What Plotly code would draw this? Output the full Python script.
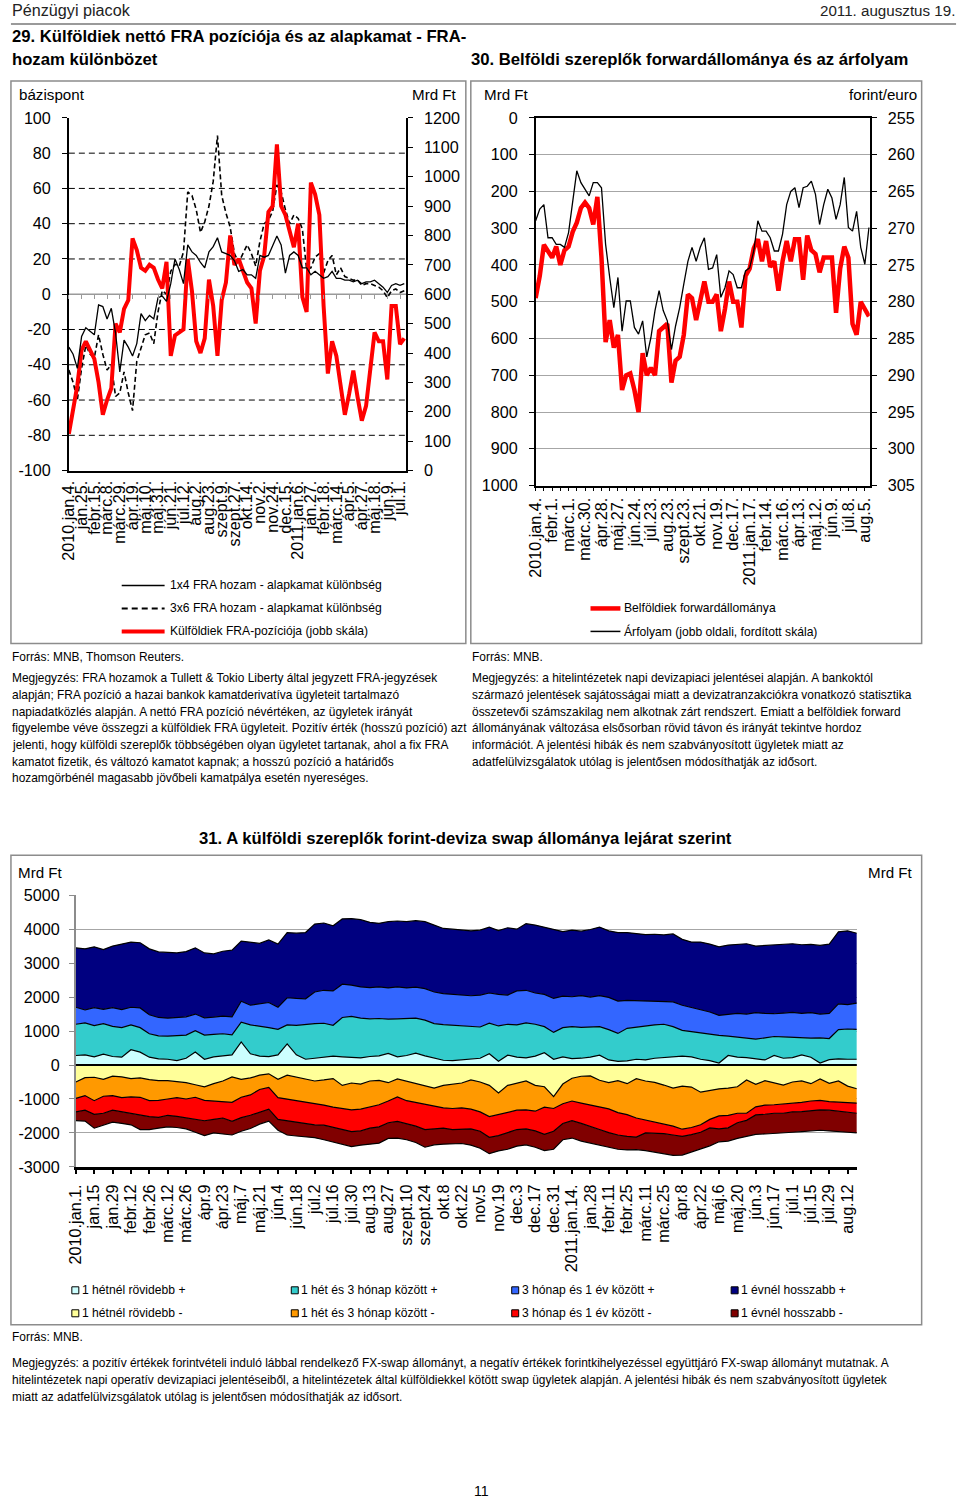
import plotly.graph_objects as go

W, H = 960, 1510
FONT = "Liberation Sans"

# The photographed page shows the canvas with a small inset and shrink; positions below are
# given in picture pixels and mapped back onto the canvas.
SC, OFF = 0.989, 8.0


def X(p):
    return (p - OFF) / SC / W


def Y(p):
    return 1 - (p - OFF) / SC / H


def fs(s):
    return round(s / SC, 2)


# ---------------- Chart 29 data (every 5 business days from 2010.jan.4.) ----------------
labels29 = ["2010.jan.4.", "jan.25.", "febr.15.", "márc.8.", "márc.29.", "ápr.19.", "máj.10.",
            "máj.31.", "jún.21.", "júl.12.", "aug.2.", "aug.23.", "szept.9.", "szept.27.",
            "okt.14.", "nov.2.", "nov.24.", "dec.15.", "2011.jan.6.", "jan.27.", "febr.18.",
            "márc.14.", "ápr.5.", "ápr.27.", "máj.18.", "jún.9.", "júl.1."]

fra_1x4 = [-30, -34, -42, -24, -19, -21, -23, -6, -7, -14,
           -8, -22, -44, -26, -30, -35, -28, -11, -15, -12,
           -14, -2, -1, -4, 6, 20, 14, 6, 28, 24,
           22, 18, 15, 24, 27, 32, 24, 23, 22, 19,
           13, 14, 11, 11, 9, 22, 21, 22, 28, 33,
           28, 12, 22, 24, 22, 15, 15, 11, 13, 11,
           9, 10, 13, 9, 9, 8, 8, 7, 8, 6,
           7, 7, 8, 6, 4, 1, 5, 6, 5, 6]

fra_3x6 = [-43, -50, -60, -42, -29, -34, -36, -23, -34, -43,
           -40, -58, -56, -44, -56, -66, -38, -30, -23, -22,
           -28, -10, 2, 0, 13, 17, 16, 24, 58, 56,
           48, 35, 41, 50, 64, 90, 56, 46, 38, 23,
           18, 23, 28, 23, 16, 30, 40, 42, 47, 62,
           58, 48, 40, 45, 43, 37, 14, 15, 21, 23,
           12, 19, 22, 11, 15, 10, 9, 8, 8, 5,
           6, 6, 5, 4, 2, -2, 2, 3, 1, 2]

fra_pos = [125, 200, 290, 410, 440, 410, 380, 300, 190, 240,
           280, 500, 470, 550, 580, 790, 750, 690, 680, 700,
           690, 650, 620, 710, 390, 460, 470, 480, 720, 610,
           440, 400, 450, 650, 560, 390, 580, 640, 800, 700,
           720, 680, 640, 620, 500, 680, 730, 880, 900, 1110,
           900, 870, 820, 760, 840, 590, 540, 980, 940, 870,
           560, 330, 440, 390, 290, 190, 260, 340, 250, 170,
           220, 350, 470, 440, 440, 310, 560, 560, 430, 450]

# ---------------- Chart 30 data (every 5 business days from 2010.jan.4.) ----------------
labels30 = ["2010.jan.4.", "febr.1.", "márc.1.", "márc.30.", "ápr.28.", "máj.27.", "jún.24.",
            "júl.23.", "aug.23.", "szept.23.", "okt.21.", "nov.19.", "dec.17.", "2011.jan.17.",
            "febr.14.", "márc.16.", "ápr.13.", "máj.12.", "jún.9.", "júl.8.", "aug.5."]

fwd_stock = [490, 430, 345, 365, 380, 350, 400, 360, 350, 310,
             285, 245, 230, 245, 290, 215, 380, 610, 550, 625,
             590, 740, 700, 695, 740, 800, 640, 700, 680, 700,
             580, 570, 560, 720, 660, 650, 590, 480, 490, 550,
             490, 445, 500, 500, 480, 580, 520, 445, 500, 500,
             570, 430, 410, 355, 330, 390, 335, 405, 390, 470,
             390, 335, 390, 330, 330, 440, 320, 360, 370, 420,
             380, 380, 380, 530, 410, 350, 380, 560, 590, 500,
             520, 540]

eurhuf = [269.0, 267.4, 266.8, 271.3, 271.3, 272.2, 272.2, 272.6, 270.6, 266.5,
          262.2, 263.8, 264.7, 265.6, 263.8, 263.8, 264.5, 272.2, 276.7, 280.8,
          276.7, 284.0, 279.9, 279.9, 283.5, 284.4, 282.6, 287.5, 284.9, 281.2,
          278.5, 281.2, 282.6, 286.5, 283.3, 280.8, 277.6, 274.5, 272.6, 274.5,
          272.6, 271.3, 275.6, 275.4, 273.6, 279.4, 278.1, 275.8, 276.3, 278.1,
          278.1, 275.8, 275.4, 273.1, 269.0, 270.4, 270.4, 271.3, 273.1, 273.1,
          270.8, 266.8, 265.0, 264.5, 267.2, 264.5, 264.3, 263.6, 265.4, 269.5,
          266.8, 264.7, 265.9, 268.8, 266.8, 263.1, 269.9, 270.4, 267.7, 272.6,
          274.9, 269.9]

# ---------------- Chart 31 data (weekly, cumulative by maturity, Mrd Ft) ----------------
labels31 = ["2010.jan.1.", "jan.15", "jan.29", "febr.12", "febr.26", "márc.12", "márc.26",
            "ápr.9", "ápr.23", "máj.7", "máj.21", "jún.4", "jún.18", "júl.2", "júl.16",
            "júl.30", "aug.13", "aug.27", "szept.10", "szept.24", "okt.8", "okt.22", "nov.5",
            "nov.19", "dec.3", "dec.17", "dec.31", "2011.jan.14.", "jan.28", "febr.11",
            "febr.25", "márc.11", "márc.25", "ápr.8", "ápr.22", "máj.6", "máj.20", "jún.3",
            "jún.17", "júl.1", "júl.15", "júl.29", "aug.12"]

pos_lt_1w = [280, 300, 240, 320, 250, 230, 450, 380, 230, 180,
             170, 130, 200, 380, 170, 240, 270, 300, 680, 330,
             260, 250, 300, 620, 300, 170, 200, 230, 260, 240,
             220, 210, 250, 270, 340, 240, 280, 350, 270, 200,
             140, 130, 160, 180, 200, 330, 110, 290, 230, 210,
             260, 360, 170, 240, 190, 200, 230, 290, 150, 110,
             120, 170, 150, 200, 220, 230, 260, 240, 170, 130,
             60, 280, 230, 220, 180, 150, 280, 200, 220, 300,
             230, 60, 160, 180, 170, 170]

pos_lt_3m = [1200, 1240, 1160, 1220, 1140, 1100, 1180, 1100, 920, 860,
             850, 860, 880, 1010, 880, 900, 920, 890, 1260, 1180,
             1150, 1100, 1050, 1180, 1170, 1200, 1220, 1230, 1170, 1400,
             1430, 1380, 1360, 1370, 1350, 1360, 1370, 1380, 1320, 1220,
             1190, 1170, 1160, 1150, 1120, 1230, 1150, 1200, 1180, 1240,
             1200, 1130, 960, 1100, 1130, 1110, 1120, 1130, 1040, 930,
             1080, 1120, 1150, 1180, 1200, 1130, 1020, 980, 950, 920,
             870, 850, 820, 790, 760, 800, 840, 830, 810, 800,
             790, 800, 780, 1040, 1060, 1050]

pos_lt_1y = [1700, 1620, 1690, 1640, 1690, 1630, 1700, 1680, 1480, 1400,
             1380, 1400, 1420, 1500, 1390, 1410, 1440, 1420, 1880, 1760,
             1790, 1840, 1700, 1980, 1960, 1950, 2150, 2200, 2180, 2380,
             2350, 2300, 2280, 2300, 2270, 2300, 2270, 2290, 2250, 2150,
             2100, 2080, 2080, 2040, 2060, 2120, 2080, 2060, 2180, 2200,
             2120, 2080, 1960, 2030, 2010, 2040, 2000, 2040, 1990, 1880,
             1900, 1890, 1900, 1880, 1870, 1860, 1760, 1700, 1620, 1560,
             1460, 1480, 1520, 1500, 1540, 1520, 1510, 1530, 1550, 1520,
             1540, 1500, 1520, 1800, 1780, 1820]

pos_all = [3450, 3420, 3480, 3400, 3500, 3560, 3620, 3600, 3420, 3330,
           3320, 3300, 3340, 3450, 3300, 3270, 3350, 3380, 3650, 3620,
           3580, 3680, 3560, 3900, 3880, 3900, 4150, 4180, 4100, 4300,
           4310, 4280, 4200, 4170, 4220, 4240, 4220, 4250, 4220, 4120,
           4020, 4000, 3980, 3950, 3970, 4060, 3960, 4040, 4000, 4160,
           4120, 4060, 4000, 3930, 3970, 3940, 3990, 4060, 3950, 3900,
           3900, 3880, 3840, 3850, 3830, 3860, 3700, 3620, 3620, 3560,
           3480, 3530, 3560, 3570, 3500, 3520, 3530, 3560, 3570, 3540,
           3550, 3520, 3560, 3920, 3950, 3880]

neg_lt_1w = [-500, -370, -360, -420, -330, -350, -400, -380, -430, -460,
             -460, -480, -520, -580, -640, -550, -470, -350, -420, -380,
             -300, -260, -420, -300, -360, -420, -470, -440, -400, -600,
             -530, -560, -470, -450, -520, -410, -480, -540, -620, -680,
             -600, -560, -530, -440, -500, -600, -820, -600, -530, -470,
             -600, -640, -930, -560, -390, -330, -320, -450, -520, -460,
             -550, -400, -470, -510, -590, -680, -620, -650, -800, -750,
             -700, -680, -640, -440, -570, -460, -530, -590, -500, -470,
             -550, -410, -540, -470, -620, -700]

neg_lt_3m = [-980, -900, -1050, -920, -900, -960, -940, -950, -1050, -1040,
             -1000, -960, -1000, -950, -1040, -1060, -1080, -1100, -950, -880,
             -720, -660, -960, -1000, -1060, -1090, -1130, -1180, -1240, -1280,
             -1320, -1300, -1240, -1170, -1060, -940, -1050, -1100, -1160, -1200,
             -1260, -1280, -1260, -1300, -1380, -1520, -1450, -1400, -1330, -1320,
             -1360, -1240, -1280, -1140, -1060, -1120, -1170, -1220, -1290, -1400,
             -1460, -1560, -1620, -1660, -1720, -1800, -1890, -1840, -1760, -1600,
             -1500, -1480, -1420, -1420, -1230, -1180, -1170, -1150, -1120, -1100,
             -1060, -1040, -1080, -1100, -1110, -1120]

neg_lt_1y = [-1380, -1330, -1450, -1420, -1330, -1380, -1440, -1480, -1520, -1540,
             -1480, -1510, -1560, -1600, -1640, -1600, -1560, -1660, -1550, -1480,
             -1380, -1300, -1600, -1640, -1680, -1740, -1760, -1770, -1830, -1880,
             -1960, -1940, -1860, -1820, -1700, -1660, -1720, -1800, -1900, -1880,
             -1860, -1900, -1900, -1880, -1950, -2130, -2080, -1990, -1900, -1880,
             -1940, -2040, -1950, -1720, -1640, -1720, -1800, -1900, -1990, -2060,
             -2100, -2120, -2000, -2000, -2020, -2060, -2100, -2050, -1980, -1850,
             -1880, -1850, -1700, -1630, -1470, -1450, -1420, -1420, -1380, -1370,
             -1350, -1320, -1330, -1360, -1400, -1420]

neg_all = [-1640, -1650, -1860, -1760, -1680, -1720, -1760, -1900, -1900, -1860,
           -1820, -1840, -1880, -1980, -2080, -2000, -2020, -2060, -1950, -1870,
           -1740, -1650, -1920, -2060, -2090, -2120, -2140, -2200, -2260, -2340,
           -2400, -2360, -2340, -2300, -2160, -2150, -2200, -2280, -2420, -2350,
           -2330, -2330, -2310, -2360, -2450, -2610, -2530, -2480, -2390, -2350,
           -2420, -2520, -2480, -2200, -2150, -2240, -2300, -2380, -2440, -2480,
           -2500, -2490, -2520, -2560, -2600, -2660, -2650, -2560, -2480, -2380,
           -2260, -2240, -2160, -2100, -2040, -2030, -2020, -2000, -1980, -1960,
           -1950, -1920, -1940, -1950, -1980, -2000]

legend31_pos = ["1 hétnél rövidebb +", "1 hét és 3 hónap között +", "3 hónap és 1 év között +", "1 évnél hosszabb +"]
legend31_neg = ["1 hétnél rövidebb -", "1 hét és 3 hónap között -", "3 hónap és 1 év között -", "1 évnél hosszabb -"]
colors_pos = ["#CCFFFF", "#33CCCC", "#3366FF", "#000080"]
colors_neg = ["#FFFF99", "#FF9900", "#FF0000", "#800000"]

STEP = 5  # business days between observations
x29 = [i * STEP for i in range(len(fra_pos))]
x30 = [i * STEP for i in range(len(fwd_stock))]
x31 = [i * STEP for i in range(len(pos_all))]
tick29 = [15 * i for i in range(len(labels29))]
tick30 = [20 * i for i in range(len(labels30))]
tick31 = [10 * i for i in range(len(labels31))]


def hy(vals):
    return [str(v) for v in vals]


yl29 = list(range(-100, 101, 20))
yr29 = list(range(0, 1201, 100))
yl30 = list(range(0, 1001, 100))
yr30 = list(range(255, 306, 5))
y31 = list(range(-3000, 5001, 1000))

fig = go.Figure()

# Chart 29
fig.add_trace(go.Scatter(x=x29, y=fra_1x4, xaxis="x2", yaxis="y", mode="lines",
                         line=dict(color="black", width=1.3), hoverinfo="skip"))
fig.add_trace(go.Scatter(x=x29, y=fra_3x6, xaxis="x", yaxis="y", mode="lines",
                         line=dict(color="black", width=1.6, dash="5px,3px"), hoverinfo="skip"))
fig.add_trace(go.Scatter(x=x29, y=fra_pos, xaxis="x", yaxis="y2", mode="lines",
                         line=dict(color="#FF0000", width=4), hoverinfo="skip"))

# Chart 30
fig.add_trace(go.Scatter(x=x30, y=fwd_stock, xaxis="x3", yaxis="y3", mode="lines",
                         line=dict(color="#FF0000", width=4.5), hoverinfo="skip"))
fig.add_trace(go.Scatter(x=x30, y=eurhuf, xaxis="x3", yaxis="y4", mode="lines",
                         line=dict(color="black", width=1.3), hoverinfo="skip"))

# Chart 31
for series, col, i in zip([pos_lt_1w, pos_lt_3m, pos_lt_1y, pos_all], colors_pos, range(4)):
    fig.add_trace(go.Scatter(x=x31, y=series, xaxis="x4", yaxis="y5", mode="lines",
                             fill="tozeroy" if i == 0 else "tonexty", fillcolor=col,
                             line=dict(color="black", width=1.2), hoverinfo="skip"))
for series, col, i in zip([neg_lt_1w, neg_lt_3m, neg_lt_1y, neg_all], colors_neg, range(4)):
    fig.add_trace(go.Scatter(x=x31, y=series, xaxis="x4", yaxis="y5", mode="lines",
                             fill="tozeroy" if i == 0 else "tonexty", fillcolor=col,
                             line=dict(color="black", width=1.2), hoverinfo="skip"))

tickfont = dict(family=FONT, size=fs(16), color="black")
xtickfont = dict(family=FONT, size=fs(16), color="black")

layout = dict(
    width=W, height=H, margin=dict(l=0, r=0, t=0, b=0), autosize=False,
    paper_bgcolor="white", plot_bgcolor="rgba(0,0,0,0)", showlegend=False,
    font=dict(family=FONT, color="black", size=12),
    # chart 29
    xaxis=dict(domain=[X(67), X(405)], range=[0, 397], anchor="y", tickmode="array",
               tickvals=tick29, ticktext=labels29, tickangle=-90, ticks="", showline=True,
               linecolor="black", linewidth=1.5, showgrid=False, zeroline=False,
               tickfont=xtickfont, ticklabelstandoff=2),
    xaxis2=dict(overlaying="x", anchor="free", position=Y(293.5), range=[0, 397],
                tickmode="array", tickvals=tick29, ticks="outside", ticklen=4, tickcolor="#9a9a9a",
                showticklabels=False, showline=False, showgrid=False, zeroline=False),
    yaxis=dict(domain=[Y(470), Y(117)], range=[-100, 100], anchor="x", tickmode="array",
               tickvals=yl29, ticktext=hy(yl29), ticks="outside", ticklen=5, tickcolor="black",
               showline=True, linecolor="black", linewidth=1.5, showgrid=False, zeroline=False,
               tickfont=tickfont, ticklabelstandoff=8),
    yaxis2=dict(overlaying="y", side="right", anchor="x", range=[0, 1200], tickmode="array",
                tickvals=yr29, ticktext=hy(yr29), ticks="outside", ticklen=5, tickcolor="black",
                showline=True, linecolor="black", linewidth=1.5, showgrid=False, zeroline=False,
                tickfont=tickfont, ticklabelstandoff=8),
    # chart 30
    xaxis3=dict(domain=[X(535), X(870)], range=[0, 406], anchor="y3", tickmode="array",
                tickvals=tick30, ticktext=labels30, tickangle=-90, ticks="outside", ticklen=4,
                tickcolor="black", showline=True, mirror=True, linecolor="black", linewidth=1.5,
                showgrid=False, zeroline=False, tickfont=xtickfont,
                minor=dict(tickmode="linear", tick0=0, dtick=10, ticks="outside", ticklen=4,
                           tickcolor="black")),
    yaxis3=dict(domain=[Y(485), Y(117)], range=[1000, 0], anchor="x3", tickmode="array",
                tickvals=yl30, ticktext=hy(yl30), ticks="outside", ticklen=5, tickcolor="black",
                showline=True, mirror=True, linecolor="black", linewidth=1.5, showgrid=True,
                gridcolor="#a6a6a6", gridwidth=1, zeroline=False, tickfont=tickfont,
                ticklabelstandoff=8),
    yaxis4=dict(overlaying="y3", side="right", anchor="x3", range=[305, 255], tickmode="array",
                tickvals=yr30, ticktext=hy(yr30), ticks="outside", ticklen=5, tickcolor="black",
                showline=True, linecolor="black", linewidth=1.5, showgrid=False, zeroline=False,
                tickfont=tickfont, ticklabelstandoff=8),
    # chart 31
    xaxis4=dict(domain=[X(74), X(857)], range=[0, 425], anchor="y5", tickmode="array",
                tickvals=tick31, ticktext=labels31, tickangle=-90, ticks="outside", ticklen=4,
                tickwidth=2, tickcolor="black", showline=True, linecolor="black", linewidth=3,
                showgrid=False, zeroline=False, tickfont=xtickfont, ticklabelstandoff=4),
    yaxis5=dict(domain=[Y(1167), Y(895)], range=[-3000, 5000], anchor="x4", tickmode="array",
                tickvals=y31, ticktext=hy(y31), ticks="outside", ticklen=5,
                tickcolor="#8c8c8c", showline=True, linecolor="#8c8c8c", linewidth=1.5,
                showgrid=True, gridcolor="#a6a6a6", gridwidth=1, zeroline=False,
                tickfont=tickfont, ticklabelstandoff=6),
    yaxis6=dict(overlaying="y5", side="right", anchor="x4", range=[-3000, 5000], tickmode="array",
                tickvals=y31, ticktext=hy(y31), ticks="outside", ticklen=5,
                tickcolor="#8c8c8c", showline=True, linecolor="#8c8c8c", linewidth=1.5,
                showgrid=False, zeroline=False, tickfont=tickfont, ticklabelstandoff=6),
)

shapes = []


def clampx(v):
    return min(max(v, 0.001), 0.999)


def clampy(v):
    return min(max(v, 0.001), 0.999)


def pline(x0, y0, x1, y1, color="black", width=1.0, dash=None):
    d = dict(type="line", xref="paper", yref="paper", x0=clampx(X(x0)), y0=clampy(Y(y0)),
             x1=clampx(X(x1)), y1=clampy(Y(y1)), line=dict(color=color, width=width))
    if dash:
        d["line"]["dash"] = dash
    shapes.append(d)


def prect(x0, y0, x1, y1, color="#8c8c8c", width=1.5, fill=None):
    d = dict(type="rect", xref="paper", yref="paper", x0=clampx(X(x0)), y0=clampy(Y(y0)),
             x1=clampx(X(x1)), y1=clampy(Y(y1)), line=dict(color=color, width=width),
             layer="below")
    if fill:
        d["fillcolor"] = fill
        d["layer"] = "above"
    shapes.append(d)


# header rule
pline(0, 23, 960, 23, color="#9a9a9a", width=2)
# panel frames
prect(5, 80, 465, 643)
prect(470, 80, 922, 643)
prect(5, 855, 922, 1325)

# chart 29 dashed grid and grey zero line
for v in [-80, -60, -40, -20, 20, 40, 60, 80]:
    shapes.append(dict(type="line", xref="x domain", yref="y", x0=0, x1=1, y0=v, y1=v,
                       line=dict(color="black", width=1, dash="6px,4px"), layer="below"))
shapes.append(dict(type="line", xref="x domain", yref="y", x0=0, x1=1, y0=0, y1=0,
                   line=dict(color="#9a9a9a", width=1.5), layer="below"))
# chart 31 zero line
shapes.append(dict(type="line", xref="x4 domain", yref="y5", x0=0, x1=1, y0=0, y1=0,
                   line=dict(color="black", width=2), layer="above"))

# legends chart 29
pline(120, 585, 163, 585, color="black", width=1.5)
pline(120, 608, 163, 608, color="black", width=2, dash="6px,4px")
pline(120, 631, 163, 631, color="#FF0000", width=4)
# legends chart 30
pline(590, 608, 620, 608, color="#FF0000", width=4.5)
pline(590, 631, 620, 631, color="black", width=1.5)
# legend chart 31
leg_x = [70, 290, 511, 731]
for i in range(4):
    prect(leg_x[i], 1287, leg_x[i] + 7, 1294, color="black", width=1, fill=colors_pos[i])
    prect(leg_x[i], 1310, leg_x[i] + 7, 1317, color="black", width=1, fill=colors_neg[i])

ann = []


def text(t, x, y, size=12, anchor="left", bold=False, color="black"):
    ann.append(dict(text=f"<b>{t}</b>" if bold else t, x=clampx(X(x)), y=clampy(Y(y)),
                    xref="paper", yref="paper", xanchor=anchor, yanchor="middle",
                    showarrow=False, borderpad=0,
                    font=dict(size=fs(size), color=color, family=FONT)))


text("Pénzügyi piacok", 2, 9, size=16, color="#222")
text("2011. augusztus 19.", 958, 9, size=15, anchor="right", color="#222")
text("29. Külföldiek nettó FRA pozíciója és az alapkamat - FRA-", 4, 36, size=16.5, bold=True)
text("hozam különbözet", 4, 59, size=16.5, bold=True)
text("30. Belföldi szereplők forwardállománya és az árfolyam", 469, 59, size=16.5, bold=True)
text("31. A külföldi szereplők forint-deviza swap állománya lejárat szerint", 465, 838,
     size=16.5, anchor="center", bold=True)

text("bázispont", 16, 94, size=15)
text("Mrd Ft", 457, 94, size=15, anchor="right")
text("Mrd Ft", 482, 94, size=15)
text("forint/euro", 918, 94, size=15, anchor="right")
text("Mrd Ft", 15, 872, size=15)
text("Mrd Ft", 914, 872, size=15, anchor="right")

text("1x4 FRA hozam - alapkamat különbség", 167, 585, size=12)
text("3x6 FRA hozam - alapkamat különbség", 167, 608, size=12)
text("Külföldiek FRA-pozíciója (jobb skála)", 167, 631, size=12)
text("Belföldiek forwardállománya", 623, 608, size=12)
text("Árfolyam (jobb oldali, fordított skála)", 623, 631, size=12)

for i in range(4):
    text(legend31_pos[i], leg_x[i] + 9, 1290, size=12)
    text(legend31_neg[i], leg_x[i] + 9, 1313, size=12)

notes29 = ["Megjegyzés: FRA hozamok a Tullett &amp; Tokio Liberty által jegyzett FRA-jegyzések",
           "alapján; FRA pozíció a hazai bankok kamatderivatíva ügyleteit tartalmazó",
           "napiadatközlés alapján. A nettó FRA pozíció névértéken, az ügyletek irányát",
           "figyelembe véve összegzi a külföldiek FRA ügyleteit. Pozitív érték (hosszú pozíció) azt",
           "jelenti, hogy külföldi szereplők többségében olyan ügyletet tartanak, ahol a fix FRA",
           "kamatot fizetik, és változó kamatot kapnak; a hosszú pozíció a határidős",
           "hozamgörbénél magasabb jövőbeli kamatpálya esetén nyereséges."]
notes30 = ["Megjegyzés: a hitelintézetek napi devizapiaci jelentései alapján. A bankoktól",
           "származó jelentések sajátosságai miatt a devizatranzakciókra vonatkozó statisztika",
           "összetevői számszakilag nem alkotnak zárt rendszert. Emiatt a belföldiek forward",
           "állományának változása elsősorban rövid távon és irányát tekintve hordoz",
           "információt. A jelentési hibák és nem szabványosított ügyletek miatt az",
           "adatfelülvizsgálatok utólag is jelentősen módosíthatják az idősort."]
notes31 = ["Megjegyzés: a pozitív értékek forintvételi induló lábbal rendelkező FX-swap állományt, a negatív értékek forintkihelyezéssel együttjáró FX-swap állományt mutatnak. A",
           "hitelintézetek napi operatív devizapiaci jelentéseiből, a hitelintézetek által külföldiekkel kötött swap ügyletek alapján. A jelentési hibák és nem szabványosított ügyletek",
           "miatt az adatfelülvizsgálatok utólag is jelentősen módosíthatják az idősort."]

NS = 11.8
text("Forrás: MNB, Thomson Reuters.", 5, 657, size=NS)
for i, t in enumerate(notes29):
    text(t, 5, 678 + 16.7 * i, size=NS)
text("Forrás: MNB.", 470, 657, size=NS)
for i, t in enumerate(notes30):
    text(t, 470, 678 + 16.7 * i, size=NS)
text("Forrás: MNB.", 5, 1337, size=NS)
for i, t in enumerate(notes31):
    text(t, 5, 1363 + 17 * i, size=NS)
ann.append(dict(text="11", x=X(481), y=0.001, xref="paper", yref="paper", xanchor="center",
                yanchor="bottom", showarrow=False, borderpad=0,
                font=dict(size=fs(14), color="black", family=FONT)))

layout["shapes"] = shapes
layout["annotations"] = ann
fig.update_layout(**layout)

fix_page = (
    "document.documentElement.style.margin='0';"
    "document.documentElement.style.overflow='hidden';"
    "document.body.style.margin='0';"
    "document.body.style.overflow='hidden';"
)
fig.write_html(
    "out.html",
    config={"responsive": False, "displayModeBar": False},
    post_script=fix_page,
)
